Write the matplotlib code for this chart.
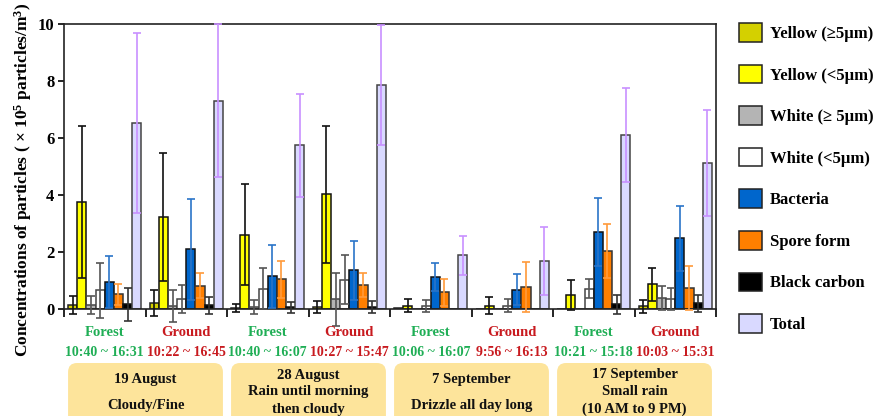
import numpy as np
import matplotlib
matplotlib.use("Agg")
import matplotlib.pyplot as plt
from matplotlib.patches import Patch, FancyBboxPatch
from matplotlib.transforms import IdentityTransform, blended_transform_factory

plt.rcParams['font.family'] = ['Liberation Serif', 'DejaVu Serif']
plt.rcParams['font.weight'] = 'bold'
plt.rcParams['mathtext.fontset'] = 'custom'
plt.rcParams['mathtext.rm'] = 'Liberation Serif:bold'
plt.rcParams['mathtext.it'] = 'Liberation Serif:bold'
plt.rcParams['mathtext.bf'] = 'Liberation Serif:bold'

# Sampling sessions (site, time window) grouped by date
sites = ["Forest", "Ground", "Forest", "Ground", "Forest", "Ground", "Forest", "Ground"]
times = ["10:40 ~ 16:31", "10:22 ~ 16:45", "10:40 ~ 16:07", "10:27 ~ 15:47",
         "10:06 ~ 16:07", "9:56 ~ 16:13", "10:21 ~ 15:18", "10:03 ~ 15:31"]
dates = ["19 August\n\nCloudy/Fine",
         "28 August\nRain until morning\nthen cloudy",
         "7 September\n\nDrizzle all day long",
         "17 September\nSmall rain\n(10 AM to 9 PM)"]

# Mean concentrations (x10^5 particles/m^3) and standard deviations
yellow_ge5 = [0.13, 0.21, 0.03, 0.07, 0.02, 0.00, 0.00, 0.09]
yellow_ge5_sd = [0.31, 0.47, 0.13, 0.20, 0.00, 0.00, 0.00, 0.24]
yellow_lt5 = [3.75, 3.23, 2.60, 4.02, 0.12, 0.12, 0.50, 0.87]
yellow_lt5_sd = [2.67, 2.26, 1.77, 2.41, 0.24, 0.29, 0.52, 0.58]
white_ge5 = [0.13, 0.12, 0.08, 0.34, 0.00, 0.00, 0.00, 0.39]
white_ge5_sd = [0.31, 0.56, 0.24, 0.94, 0.00, 0.00, 0.00, 0.43]
white_lt5 = [0.65, 0.35, 0.71, 1.03, 0.09, 0.12, 0.71, 0.36]
white_lt5_sd = [0.95, 0.50, 0.72, 0.85, 0.21, 0.23, 0.33, 0.38]
bacteria = [0.94, 2.09, 1.15, 1.36, 1.11, 0.68, 2.69, 2.48]
bacteria_sd = [0.91, 1.77, 1.11, 1.04, 0.49, 0.55, 1.19, 1.14]
spore = [0.51, 0.82, 1.04, 0.84, 0.58, 0.77, 2.05, 0.73]
spore_sd = [0.38, 0.43, 0.65, 0.41, 0.46, 0.88, 0.95, 0.78]
black_carbon = [0.16, 0.13, 0.06, 0.06, 0.00, 0.00, 0.16, 0.20]
black_carbon_sd = [0.59, 0.30, 0.20, 0.21, 0.00, 0.00, 0.32, 0.30]
total = [6.53, 7.31, 5.74, 7.87, 1.89, 1.68, 6.10, 5.11]
total_sd = [3.17, 2.69, 1.80, 2.10, 0.68, 1.18, 1.66, 1.86]

labels = ["Yellow (\u22655\u03bcm)", "Yellow (<5\u03bcm)", "White (\u2265 5\u03bcm)",
          "White (<5\u03bcm)", "Bacteria", "Spore form", "Black carbon", "Total"]
series = [yellow_ge5, yellow_lt5, white_ge5, white_lt5, bacteria, spore, black_carbon, total]
errors = [yellow_ge5_sd, yellow_lt5_sd, white_ge5_sd, white_lt5_sd,
          bacteria_sd, spore_sd, black_carbon_sd, total_sd]
fills = ["#d4d000", "#ffff00", "#b4b4b4", "#ffffff", "#0066cc", "#ff7f00", "#000000", "#d9d9ff"]
edges = ["#222222", "#111111", "#444444", "#444444", "#111111", "#333333", "#111111", "#444444"]
err_colors = ["#111111", "#111111", "#555555", "#555555", "#2a74c8", "#ff9a3a", "#333333", "#c890ff"]

W, H = 877, 416
fig = plt.figure(figsize=(W / 100, H / 100), dpi=100)
ax = fig.add_axes([64 / W, 1 - 309 / H, (716 - 64) / W, 285 / H])

n_groups = len(sites)
bar_w = 0.112
offset = 0.052
for k, (vals, sd) in enumerate(zip(series, errors)):
    x = np.arange(n_groups) + offset + k * bar_w
    vals = np.asarray(vals)
    sd = np.asarray(sd)
    ax.bar(x, vals, width=bar_w, align='edge', color=fills[k], edgecolor=edges[k],
           linewidth=1.1, zorder=2)
    m = sd > 0
    eb = ax.errorbar(x[m] + bar_w / 2, vals[m], yerr=sd[m], fmt='none',
                     ecolor=err_colors[k], elinewidth=1.2, capsize=3.2, capthick=1.2,
                     zorder=3)
    for art in eb.lines[1] + eb.lines[2]:
        art.set_clip_on(False)

ax.set_xlim(0, n_groups)
ax.set_ylim(0, 10)
ax.set_yticks(np.arange(0, 11, 2))
ax.set_xticks(np.arange(0, n_groups + 1))
ax.set_xticklabels([])
ax.tick_params(axis='x', direction='out', length=6, width=1.2)
ax.tick_params(axis='y', direction='out', length=4, width=1.2, labelsize=12, pad=3)
for i, t in enumerate(ax.xaxis.get_major_ticks()):
    if i % 2 == 1:
        t.tick1line.set_color('#777777')
for lab in ax.get_yticklabels():
    lab.set_fontweight('bold')
for s in ax.spines.values():
    s.set_linewidth(1.2)
    s.set_color('#222222')

ax.set_ylabel(r"Concentrations of particles ( $\times$ 10$^5$ particles/m$^3$)",
              fontsize=12.5, fontweight='bold')
ax.yaxis.set_label_coords(-0.046, 0.455)

# Site and sampling-time labels under each group
tr = blended_transform_factory(ax.transData, ax.transAxes)
site_colors = {"Forest": "#1fae55", "Ground": "#c81a1f"}
for g in range(n_groups):
    c = site_colors[sites[g]]
    ax.text(g + 0.5, -0.082, sites[g], transform=tr, ha='center', va='center',
            fontsize=10.5, fontweight='bold', color=c, clip_on=False)
    ax.text(g + 0.5, -0.152, times[g], transform=tr, ha='center', va='center',
            fontsize=10, fontweight='bold', color=c, clip_on=False)

# Date / weather boxes spanning each pair of groups
for d, txt in enumerate(dates):
    x0 = ax.transData.transform((2 * d + 0.05, 0))[0]
    x1 = ax.transData.transform((2 * d + 1.95, 0))[0]
    box = FancyBboxPatch((x0, -15), x1 - x0, H - 363 + 15,
                         boxstyle='round,pad=0,rounding_size=9',
                         facecolor='#fde49b', edgecolor='none',
                         transform=IdentityTransform(), clip_on=False)
    fig.add_artist(box)
    ls = 1.0 if '\n\n' in txt else 1.4
    fig.text((x0 + x1) / 2 / W, (H - 392) / H, txt, ha='center', va='center',
             fontsize=10.5, fontweight='bold', color='#111111', linespacing=ls)

handles = [Patch(facecolor=fills[k], edgecolor='#222222', linewidth=1.1)
           for k in range(len(labels))]
fig.legend(handles, labels, loc='upper left', bbox_to_anchor=(739 / W, 1 - 23 / H),
           frameon=False, handlelength=1.35, handleheight=1.35, labelspacing=1.36,
           handletextpad=0.5, borderpad=0, borderaxespad=0,
           prop={'size': 12, 'weight': 'bold'})

fig.savefig("out.png", dpi=100)
